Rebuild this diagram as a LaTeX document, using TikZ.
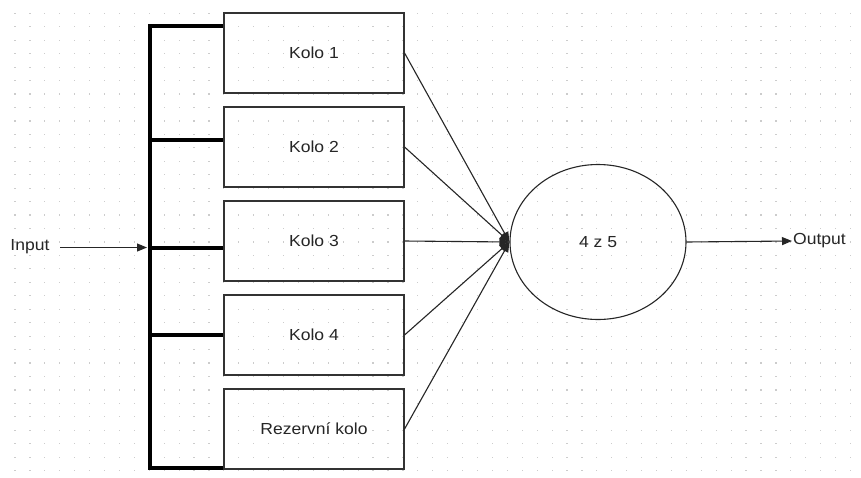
\documentclass[tikz,border=0pt]{standalone}
\usepackage{fontspec}
\setmainfont{Liberation Sans}[FakeStretch=1.096]
\usetikzlibrary{arrows.meta,shapes.geometric}
\begin{document}
\begin{tikzpicture}[x=1pt,y=-1pt,
  txt/.style={font=\fontsize{16}{18}\selectfont,text=black!85},
  box/.style={txt,draw=black!80,line width=1.1pt,minimum width=180pt,minimum height=80pt,inner sep=0pt},
  bus/.style={line width=4pt,line cap=rect},
  conn/.style={draw=black!85,line width=1.1pt,-{Triangle[length=10pt,width=8pt]}},
  lbl/.style={txt,inner sep=1pt}]
\useasboundingbox (0,0) rectangle (861,477);
\fill[white] (0,0) rectangle (861,477);
% grid dots
\foreach \i in {0,...,57}{
  \foreach \j in {0,...,34}{
    \fill[black!20] ({15+14.92*\i-0.6},{13.3+13.45*\j-0.6}) rectangle ++(1.2,1.2);
  }
}
\node[box] (k1) at (314,53) {Kolo 1};
\node[box] (k2) at (314,147) {Kolo 2};
\node[box] (k3) at (314,241) {Kolo 3};
\node[box] (k4) at (314,335) {Kolo 4};
\node[box] (k5) at (314,429) {Rezervní kolo};
\node[txt,draw=black!85,line width=1.1pt,ellipse,minimum width=176pt,minimum height=155pt,inner sep=0pt] (v) at (598,242) {4 z 5};
% bus
\coordinate (bt) at (149.5,26);
\coordinate (bb) at (149.5,468);
\coordinate (b2) at (149.5,140);
\coordinate (b3) at (149.5,247.5);
\coordinate (b4) at (149.5,335);
\coordinate (bin) at (147,247.5);
\draw[bus] (bt) -- (bb);
\draw[line width=4pt] (bt) -- (bt -| k1.west);
\draw[line width=4pt] (b2) -- (b2 -| k2.west);
\draw[line width=4pt] (b3) -- (b3 -| k3.west);
\draw[line width=4pt] (b4) -- (b4 -| k4.west);
\draw[line width=4pt] (bb) -- (bb -| k5.west);
% input / output
\node[lbl] (in) at (30,247) {Input};
\coordinate (ina) at (60,247.5);
\draw[conn] (ina) -- (bin);
\node[lbl,anchor=west] (out) at (792,241) {Output};
\draw[conn] (v.east) -- (out.west);
% voters
\coordinate (vin) at (v.west);
\draw[conn] (k1.east) -- (vin);
\draw[conn] (k2.east) -- (vin);
\draw[conn] (k3.east) -- (vin);
\draw[conn] (k4.east) -- (vin);
\draw[conn] (k5.east) -- (vin);
\end{tikzpicture}
\end{document}
